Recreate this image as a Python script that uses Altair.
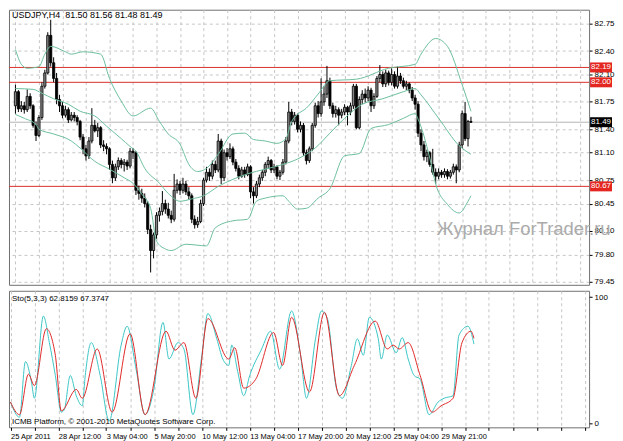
import altair as alt
import pandas as pd

# ---------------- data ----------------
opens = [81.70, 81.88, 81.66, 81.70, 81.65, 81.82, 81.70, 81.45, 81.32, 81.55,
         81.95, 82.12, 82.60, 82.25, 82.05, 81.78, 81.70, 81.58, 81.65, 81.52,
         81.58, 81.55, 81.50, 81.30, 81.15, 81.06, 81.25, 81.45, 81.38, 81.42,
         81.20, 81.18, 81.15, 80.95, 80.78, 80.92, 81.00, 80.95, 80.98, 80.93,
         81.12, 81.10, 80.62, 80.58, 80.52, 80.45, 80.12, 79.85, 80.05, 80.30,
         80.35, 80.45, 80.38, 80.30, 80.25, 80.62, 80.70, 80.62, 80.70, 80.60,
         80.55, 80.25, 80.18, 80.22, 80.45, 80.75, 80.85, 80.80, 80.95, 80.88,
         81.25, 80.78, 81.10, 81.05, 81.15, 80.98, 80.90, 80.80, 80.88, 80.82,
         80.92, 80.60, 80.55, 80.70, 80.78, 80.85, 80.95, 81.00, 80.88, 80.92,
         80.80, 80.85, 80.98, 81.25, 81.62, 81.50, 81.58, 81.40, 81.45, 81.10,
         81.00, 81.15, 81.45, 81.70, 81.60, 81.75, 81.85, 82.02, 81.70, 81.60,
         81.65, 81.58, 81.62, 81.68, 81.62, 81.70, 81.95, 81.42, 81.78, 81.85,
         81.80, 81.90, 81.70, 81.82, 82.05, 82.10, 81.98, 82.12, 82.00, 82.10,
         81.95, 82.08, 82.02, 81.95, 81.98, 81.90, 81.80, 81.72, 81.35, 81.20,
         81.05, 81.10, 80.95, 80.85, 80.80, 80.85, 80.82, 80.86, 80.80, 80.85,
         80.92, 80.88, 81.20, 81.60, 81.28, 81.50]
highs = [81.97, 81.90, 81.76, 81.75, 81.91, 81.86, 81.72, 81.50, 81.58, 82.00,
         82.16, 82.64, 82.80, 82.32, 82.12, 81.84, 81.75, 81.70, 81.68, 81.62,
         81.62, 81.58, 81.52, 81.34, 81.20, 81.30, 81.67, 81.52, 81.48, 81.44,
         81.26, 81.22, 81.17, 81.00, 80.96, 81.04, 81.03, 81.02, 81.01, 81.16,
         81.16, 81.12, 80.68, 80.64, 80.58, 80.48, 80.18, 80.08, 80.34, 80.40,
         80.61, 80.50, 80.46, 80.36, 80.83, 80.76, 80.74, 80.78, 80.74, 80.66,
         80.58, 80.30, 80.28, 80.50, 80.78, 80.92, 80.90, 81.00, 81.00, 81.34,
         81.28, 81.14, 81.16, 81.22, 81.18, 81.02, 80.94, 80.92, 80.92, 80.96,
         80.94, 80.66, 80.74, 80.82, 80.88, 80.98, 81.05, 81.02, 80.96, 80.94,
         80.88, 81.02, 81.30, 81.75, 81.66, 81.62, 81.60, 81.50, 81.48, 81.14,
         81.18, 81.48, 81.74, 81.76, 82.05, 81.95, 82.21, 82.06, 81.74, 81.70,
         81.68, 81.66, 81.72, 81.70, 81.74, 81.98, 81.98, 81.82, 81.90, 81.92,
         81.95, 81.93, 81.86, 82.08, 82.22, 82.14, 82.16, 82.15, 82.18, 82.14,
         82.20, 82.12, 82.06, 82.02, 82.00, 81.94, 81.84, 81.76, 81.40, 81.25,
         81.14, 81.12, 81.15, 80.90, 80.90, 80.88, 80.90, 80.89, 80.88, 80.96,
         80.95, 81.24, 81.64, 81.75, 81.52, 81.56]
lows = [81.60, 81.62, 81.62, 81.60, 81.62, 81.66, 81.42, 81.25, 81.30, 81.52,
        81.92, 82.10, 82.20, 82.00, 81.72, 81.62, 81.54, 81.55, 81.48, 81.50,
        81.50, 81.45, 81.26, 81.08, 81.00, 81.02, 81.22, 81.36, 81.30, 81.16,
        81.12, 81.08, 80.88, 80.71, 80.74, 80.88, 80.90, 80.86, 80.88, 80.90,
        81.02, 80.56, 80.50, 80.46, 80.40, 80.06, 79.57, 79.75, 80.00, 80.22,
        80.30, 80.32, 80.26, 80.20, 80.22, 80.58, 80.56, 80.58, 80.56, 80.50,
        80.20, 80.13, 80.14, 80.20, 80.42, 80.72, 80.74, 80.76, 80.84, 80.85,
        80.70, 80.74, 81.00, 81.02, 80.94, 80.86, 80.76, 80.78, 80.78, 80.80,
        80.52, 80.45, 80.52, 80.66, 80.74, 80.80, 80.90, 80.84, 80.84, 80.76,
        80.75, 80.82, 80.95, 81.22, 81.45, 81.46, 81.36, 81.36, 81.06, 80.95,
        80.97, 81.12, 81.42, 81.55, 81.56, 81.70, 81.80, 81.66, 81.55, 81.55,
        81.45, 81.54, 81.58, 81.45, 81.58, 81.66, 81.40, 81.40, 81.72, 81.74,
        81.76, 81.62, 81.66, 81.80, 82.00, 81.94, 81.94, 81.96, 81.96, 81.92,
        81.92, 81.98, 81.92, 81.90, 81.86, 81.76, 81.65, 81.30, 81.12, 81.00,
        80.98, 80.92, 80.82, 80.70, 80.76, 80.78, 80.78, 80.76, 80.77, 80.82,
        80.71, 80.85, 81.16, 81.25, 81.18, 81.48]
closes = [81.88, 81.66, 81.70, 81.65, 81.82, 81.70, 81.45, 81.32, 81.55, 81.95,
          82.12, 82.60, 82.25, 82.05, 81.78, 81.70, 81.58, 81.65, 81.52, 81.58,
          81.55, 81.50, 81.30, 81.15, 81.06, 81.25, 81.45, 81.38, 81.42, 81.20,
          81.18, 81.15, 80.95, 80.78, 80.92, 81.00, 80.95, 80.98, 80.93, 81.12,
          81.10, 80.62, 80.58, 80.52, 80.45, 80.12, 79.85, 80.05, 80.30, 80.35,
          80.45, 80.38, 80.30, 80.25, 80.62, 80.70, 80.62, 80.70, 80.60, 80.55,
          80.25, 80.18, 80.22, 80.45, 80.75, 80.85, 80.80, 80.95, 80.88, 81.25,
          80.78, 81.10, 81.05, 81.15, 80.98, 80.90, 80.80, 80.88, 80.82, 80.92,
          80.60, 80.55, 80.70, 80.78, 80.85, 80.95, 81.00, 80.88, 80.92, 80.80,
          80.85, 80.98, 81.25, 81.62, 81.50, 81.58, 81.40, 81.45, 81.10, 81.00,
          81.15, 81.45, 81.70, 81.60, 81.75, 81.85, 82.02, 81.70, 81.60, 81.65,
          81.58, 81.62, 81.68, 81.62, 81.70, 81.95, 81.42, 81.78, 81.85, 81.80,
          81.90, 81.70, 81.82, 82.05, 82.10, 81.98, 82.12, 82.00, 82.10, 81.95,
          82.08, 82.02, 81.95, 81.98, 81.90, 81.80, 81.72, 81.35, 81.20, 81.05,
          81.10, 80.95, 80.85, 80.80, 80.85, 80.82, 80.86, 80.80, 80.85, 80.92,
          80.88, 81.20, 81.60, 81.28, 81.50, 81.49]

bb_upper_idx = [0, 2, 4, 8, 10, 12, 17, 19, 23, 29, 32, 36, 40, 46, 49, 52, 56, 59, 62, 65,
                69, 74, 78, 81, 85, 89, 92, 94, 96, 99, 103, 107, 116, 127, 136, 138, 143, 147, 152, 155]
bb_upper = [82.42, 82.23, 82.18, 82.20, 82.36, 82.46, 82.39, 82.36, 82.39, 82.36,
            82.05, 81.76, 81.57, 81.67, 81.50, 81.34, 81.21, 80.95, 80.86, 80.90,
            81.08, 81.34, 81.35, 81.27, 81.25, 81.22, 81.28, 81.50, 81.59, 81.67,
            81.85, 82.02, 82.04, 82.18, 82.23, 82.36, 82.56, 82.46, 81.97, 81.63]
bb_mid_idx = [0, 6, 9, 13, 18, 22, 27, 31, 36, 39, 41, 44, 49, 52, 56, 60, 64, 69, 74, 79,
              85, 91, 96, 102, 107, 112, 118, 125, 132, 136, 138, 144, 151, 155]
bb_mid = [81.92, 81.91, 81.86, 81.79, 81.72, 81.63, 81.57, 81.44, 81.28, 81.18,
          81.12, 80.90, 80.71, 80.58, 80.48, 80.51, 80.55, 80.67, 80.76, 80.83,
          80.89, 80.95, 81.02, 81.16, 81.35, 81.54, 81.72, 81.79, 81.88, 81.92,
          81.84, 81.54, 81.19, 81.08]
bb_lower_idx = [0, 3, 7, 8, 13, 19, 22, 27, 32, 37, 40, 43, 46, 48, 51, 53, 58, 65, 68, 74,
                79, 82, 85, 91, 93, 96, 99, 103, 107, 112, 117, 121, 127, 132, 136, 137, 141, 143, 147, 151,
                154, 155]
bb_lower = [81.59, 81.54, 81.46, 81.40, 81.34, 81.25, 81.16, 80.99, 80.89, 80.78,
            80.71, 80.57, 80.39, 79.97, 79.87, 79.85, 79.93, 79.91, 80.14, 80.23,
            80.25, 80.48, 80.52, 80.55, 80.48, 80.38, 80.39, 80.52, 80.64, 81.06,
            81.09, 81.41, 81.46, 81.54, 81.60, 81.53, 81.03, 80.70, 80.44, 80.33,
            80.48, 80.55]

sto_main_idx = [0, 3, 5, 7, 8, 11, 13, 15, 17, 18, 20, 22, 24, 25, 27, 30, 33, 37, 39, 42,
                45, 48, 51, 53, 56, 58, 61, 64, 66, 69, 71, 73, 74, 76, 78, 80, 84, 87, 90, 94,
                97, 99, 102, 104, 106, 109, 111, 114, 116, 118, 120, 123, 124, 126, 129, 131, 133, 135, 137, 140,
                143, 145, 148, 150, 153, 155]
sto_main = [17, 5, 49, 33, 20, 85, 64, 38, 9, 11, 38, 22, 14, 38, 64, 38, 2, 62, 77, 43,
            7, 28, 80, 51, 64, 59, 7, 54, 87, 67, 51, 46, 62, 41, 22, 38, 59, 73, 43, 89,
            54, 20, 67, 89, 83, 28, 20, 46, 67, 54, 84, 67, 51, 70, 56, 68, 51, 38, 35, 7,
            17, 20, 22, 70, 77, 62.8159]
sto_signal_idx = [0, 3, 6, 8, 12, 15, 17, 22, 24, 29, 34, 40, 45, 52, 55, 58, 62, 66, 73, 75,
                  78, 82, 88, 91, 94, 100, 105, 110, 115, 122, 126, 128, 130, 133, 137, 141, 144, 148, 151, 154,
                  155]
sto_signal = [17, 7, 39, 30, 75, 54, 10, 27, 20, 59, 9, 71, 7, 73, 58, 64, 20, 83, 51, 60,
              28, 35, 72, 46, 84, 25, 88, 22, 46, 81, 59, 62, 59, 64, 38, 9, 14, 20, 64, 73,
              67.3747]

price_ticks = [82.75, 82.40, 82.10, 81.75, 81.40, 81.10, 80.75, 80.45, 80.10, 79.80, 79.45]
date_label_bars = [0, 16, 32, 48, 64, 80, 96, 112, 128, 144]
date_labels = ["25 Apr 2011", "28 Apr 12:00", "3 May 04:00", "5 May 20:00", "10 May 12:00",
               "13 May 04:00", "17 May 20:00", "20 May 12:00", "25 May 04:00", "29 May 21:00"]
level_prices = [82.19, 82.00, 80.67]
bid_price = 81.49
title_text = "USDJPY,H4 \u00a081.50 81.56 81.48 81.49"
sto_text = "Sto(5,3,3) 62.8159 67.3747"
copyright_text = "ICMB Platform, \u00a9 2001-2010 MetaQuotes Software Corp."
watermark_text = "Журнал ForTrader.ru"

# ---------------- layout / style ----------------
W, H1, H2 = 582, 276, 137
PX_PER_BAR = 3.0
FONT = "Liberation Sans Narrow, Liberation Sans, Arial"
FS = 8
BAND = "#6cbf9d"
LEVEL_RED = "#d9302a"
TAG_RED = "#e3261f"
CYAN = "#3cc6c6"
RED = "#e02a2a"
Y_TOP, Y_BOT = 82.928, 79.412

xscale = alt.Scale(domain=[-0.5, W / PX_PER_BAR - 0.5], nice=False, zero=False)
yscale = alt.Scale(domain=[Y_BOT, Y_TOP], nice=False, zero=False)
sscale = alt.Scale(domain=[-3, 105], nice=False, zero=False)
grid_bars = list(range(0, int(W / PX_PER_BAR), 8))

label_expr = " : ".join(f"datum.value == {b} ? '{t}'" for b, t in zip(date_label_bars, date_labels)) + " : ''"

xax_main = alt.Axis(values=grid_bars, labels=False, ticks=False, domain=False, grid=True, title=None)
yax_main = alt.Axis(orient="right", values=price_ticks, format=".2f", grid=True, title=None,
                    domain=False, tickSize=3, labelPadding=2, labelOverlap=False)
xax_bottom = alt.Axis(values=grid_bars, labelExpr=label_expr, grid=True, domain=False, tickSize=3,
                      labelAlign="left", labelPadding=2, labelFlush=False, labelOverlap=False,
                      labelBound=False, title=None, labelFontSize=7.5)
yax_sto = alt.Axis(orient="right", values=[0, 100], format="d", grid=False, domain=False,
                   tickSize=3, labelPadding=2, title=None)


def X(field="i"):
    return alt.X(f"{field}:Q", scale=xscale, axis=xax_main)


def Y(field):
    return alt.Y(f"{field}:Q", scale=yscale, axis=yax_main)


candles = pd.DataFrame({"i": range(len(closes)), "o": opens, "h": highs, "l": lows, "c": closes})
candles["dir"] = ["up" if c >= o else "down" for o, c in zip(opens, closes)]

bands = pd.concat([
    pd.DataFrame({"i": bb_upper_idx, "v": bb_upper, "band": "upper"}),
    pd.DataFrame({"i": bb_mid_idx, "v": bb_mid, "band": "middle"}),
    pd.DataFrame({"i": bb_lower_idx, "v": bb_lower, "band": "lower"}),
])

levels = pd.DataFrame({"p": level_prices})
bid = pd.DataFrame({"p": [bid_price]})

half = 5.0 / (H1 / (Y_TOP - Y_BOT))  # half tag height in price units
tag_prices = level_prices + [bid_price]
tags = pd.DataFrame({
    "p": tag_prices,
    "lo": [p - half for p in tag_prices],
    "hi": [p + half for p in tag_prices],
    "txt": [f"{p:.2f}" for p in tag_prices],
    "col": [TAG_RED] * len(level_prices) + ["#000000"],
})

bid_rule = alt.Chart(bid).mark_rule(color="#b4b4b4", strokeWidth=1).encode(y=Y("p"))
level_rules = alt.Chart(levels).mark_rule(color=LEVEL_RED, strokeWidth=1).encode(y=Y("p"))
band_lines = alt.Chart(bands).mark_line(color=BAND, strokeWidth=1, interpolate="monotone").encode(
    x=X(), y=Y("v"), detail="band:N")
wicks = alt.Chart(candles).mark_rule(color="black", strokeWidth=1).encode(
    x=X(), y=Y("l"), y2=alt.Y2("h"))
bodies = alt.Chart(candles).mark_bar(width=2.2, stroke="black", strokeWidth=0.8).encode(
    x=X(), y=Y("o"), y2=alt.Y2("c"),
    fill=alt.Fill("dir:N", scale=alt.Scale(domain=["up", "down"], range=["#858585", "#000000"]), legend=None))
tag_boxes = alt.Chart(tags).mark_rect().encode(
    x=alt.value(W + 1), x2=alt.value(W + 23), y=Y("lo"), y2=alt.Y2("hi"),
    fill=alt.Fill("col:N", scale=None))
tag_text = alt.Chart(tags).mark_text(color="white", fontSize=FS, font=FONT, align="center", baseline="middle").encode(
    x=alt.value(W + 12), y=Y("p"), text="txt:N")
title = alt.Chart(pd.DataFrame({"t": [title_text]})).mark_text(
    align="left", baseline="top", fontSize=9, font=FONT, color="black").encode(
    x=alt.value(3), y=alt.value(1), text="t:N")
watermark = alt.Chart(pd.DataFrame({"t": [watermark_text]})).mark_text(
    align="left", baseline="alphabetic", fontSize=18.5, font="Liberation Sans", color="#ababab").encode(
    x=alt.value(429), y=alt.value(226), text="t:N")

main = alt.layer(bid_rule, level_rules, wicks, bodies, band_lines, tag_boxes, tag_text, title, watermark
                 ).properties(width=W, height=H1)

sto_k = pd.DataFrame({"i": sto_main_idx, "v": sto_main})
sto_d = pd.DataFrame({"i": sto_signal_idx, "v": sto_signal})
SX = alt.X("i:Q", scale=xscale, axis=xax_bottom)
SY = alt.Y("v:Q", scale=sscale, axis=yax_sto)
k_line = alt.Chart(sto_k).mark_line(color=CYAN, strokeWidth=1, interpolate="monotone").encode(x=SX, y=SY)
d_line = alt.Chart(sto_d).mark_line(color=RED, strokeWidth=1, interpolate="monotone").encode(x=SX, y=SY)
sto_label = alt.Chart(pd.DataFrame({"t": [sto_text]})).mark_text(
    align="left", baseline="top", fontSize=FS, font=FONT, color="black").encode(
    x=alt.value(3), y=alt.value(4), text="t:N")
copy_label = alt.Chart(pd.DataFrame({"t": [copyright_text]})).mark_text(
    align="left", baseline="bottom", fontSize=FS, font=FONT, color="black").encode(
    x=alt.value(3), y=alt.value(H2 - 1), text="t:N")

sto = alt.layer(k_line, d_line, sto_label, copy_label).properties(width=W, height=H2)

chart = alt.vconcat(main, sto, spacing=3).properties(
    padding={"left": 0, "top": 0, "right": 0, "bottom": 0}, background="white"
).configure_view(
    stroke="#707070", strokeWidth=1
).configure_axis(
    labelFont=FONT, labelFontSize=FS, labelColor="black", tickColor="black",
    gridColor="#c6c6c6", gridDash=[3, 3], gridWidth=1, minExtent=0
)

chart.save("out.html", embed_options={"renderer": "svg", "actions": False})
